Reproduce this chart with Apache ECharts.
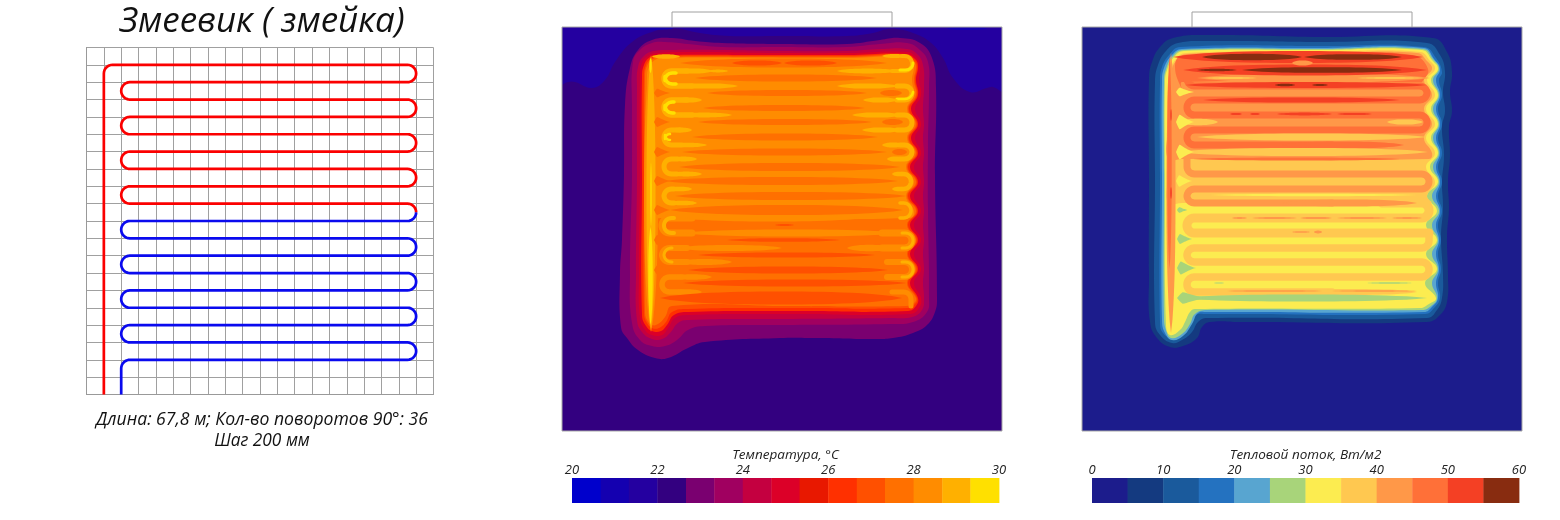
<!DOCTYPE html>
<html style="height: 100%">
<head>
<meta charset="utf-8">
</head>
<body style="height: 100%; margin: 0; background: #fff">
<div id="container" style="width:1560px;height:520px"></div>
<script src="https://cdn.jsdelivr.net/npm/echarts@6/dist/echarts.min.js"></script>
<script type="text/javascript">
// pipe layout, in grid cells
var pipeRed = [[1,0],[1,19],[19,19],[19,18],[2,18],[2,17],[19,17],[19,16],[2,16],[2,15],[19,15],[19,14],[2,14],[2,13],[19,13],[19,12],[2,12],[2,11],[19,11],[19,10.5]];
var pipeBlue = [[19,10.5],[19,10],[2,10],[2,9],[19,9],[19,8],[2,8],[2,7],[19,7],[19,6],[2,6],[2,5],[19,5],[19,4],[2,4],[2,3],[19,3],[19,2],[2,2],[2,0]];

// colour bars
var tempBins = [20,20.67,21.33,22,22.67,23.33,24,24.67,25.33,26,26.67,27.33,28,28.67,29.33,30];
var tempColors = ['#0000cc','#1400b0','#2400a0','#330080','#7a0070','#a00060','#c40040','#dc0028','#e81800','#ff3000','#ff5000','#ff7000','#ff8c00','#ffb000','#ffe000'];
var heatBins = [0,5,10,15,20,25,30,35,40,45,50,55,60];
var heatColors = ['#1c1c8c','#143a80','#1a5a9c','#2472c0','#58a5d0','#a8d47a','#fcec50','#ffc850','#ff9848','#ff7038','#f44024','#882c10'];

// temperature contours, room coords, bin index is the array name's number
var tempOutline2 = [[-30,-30],[470,-30],[470,82],[440,65],[431,60],[425,61],[408,65],[391,51],[381,31],[368,15],[351,6],[335,2],[325,2],[311,6],[285,9],[218,9],[168,9],[138,6],[110,1],[90,5],[70,15],[53,35],[43,53],[30,61],[13,55],[6,55],[0,58],[-30,74]];
var tempOutline4 = [[62,148],[63,78],[68,41],[76,23],[90,13],[110,11],[133,14],[160,16],[223,17],[285,17],[318,13],[338,11],[358,16],[370,31],[374,61],[373,148],[375,271],[373,285],[365,298],[351,306],[331,311],[311,312],[251,311],[218,311],[143,315],[126,321],[106,331],[93,331],[76,323],[65,311],[59,300],[58,246],[60,213]];
var tempOutline5 = [[70,148],[70,78],[71,35],[78,23],[90,16],[103,15],[126,17],[160,20],[218,20],[285,20],[318,17],[345,16],[358,23],[366,35],[367,60],[366,120],[366,181],[367,271],[365,285],[351,295],[328,297],[223,298],[143,299],[126,303],[115,313],[103,319],[90,319],[78,313],[70,296],[68,246]];
var tempOutline6 = [[75,148],[75,60],[76,40],[82,29],[92,24],[110,23],[160,23],[218,24],[285,24],[320,22],[345,22],[355,27],[361,38],[362,60],[361,82],[362,97],[361,111],[362,126],[361,140],[362,155],[361,169],[362,184],[361,198],[362,213],[361,227],[362,242],[361,256],[362,271],[360,283],[350,290],[328,291],[223,292],[126,293],[116,296],[108,306],[100,312],[90,312],[80,305],[75,293],[74,246]];
var tempOutline7 = [[78,148],[78,50],[80,36],[86,29],[95,26],[130,25],[218,26],[285,26],[345,25],[354,30],[358,39],[357,53],[359,68],[353,82],[359,97],[353,111],[359,126],[352,140],[359,155],[352,169],[359,184],[352,198],[359,213],[352,227],[359,242],[352,256],[359,271],[357,281],[348,287],[223,287],[126,288],[113,291],[106,301],[100,308],[90,308],[83,303],[78,290],[77,246]];
var tempOutline9 = [[80,148],[80,50],[82,38],[88,30],[96,28],[218,28],[285,28],[344,27],[353,32],[356,39],[354,53],[356,68],[349,82],[356,97],[349,111],[356,126],[348,140],[356,155],[348,169],[356,184],[348,198],[356,213],[348,227],[356,242],[348,256],[356,271],[354,279],[346,284],[223,284],[126,285],[112,288],[105,298],[99,304],[90,304],[84,299],[80,288]];
var tempOutline10 = [[82,148],[82,50],[84,38],[90,31],[98,29],[218,29],[285,29],[343,28],[352,33],[355,39],[353,53],[355,68],[347,82],[355,97],[347,111],[355,126],[346,140],[355,155],[346,169],[355,184],[346,198],[355,213],[346,227],[355,242],[346,256],[355,271],[353,277],[345,281],[223,281],[126,282],[110,285],[104,295],[97,301],[90,301],[85,296],[82,286]];
var tempOutline11 = [[83,148],[83,50],[85,39],[91,32],[99,30],[218,30],[285,30],[342,29],[351,34],[354,39],[352,53],[354,68],[346,82],[354,97],[346,111],[354,126],[345,140],[354,155],[345,169],[354,184],[345,198],[354,213],[345,227],[354,242],[345,256],[354,271],[352,276],[344,279],[223,279],[110,279],[103,290],[96,297],[90,298],[85,293],[83,284]];
var tempOutline12 = [[85,148],[85,50],[87,40],[93,33],[100,31],[218,31],[285,31],[340,30],[349,35],[352,39],[350,53],[352,68],[345,82],[352,97],[345,111],[352,126],[344,140],[352,155],[344,169],[352,184],[348,191],[100,191],[85,191]];

// warm runs following the pipe: bin, stroke, waypoints
var tempRuns = [
  [12,7,[[130,191],[100,191],[100,206],[130,206]]],
  [12,6,[[125,221],[100,221],[100,235],[125,235]]],
  [12,5.5,[[120,250],[100,250],[100,265],[120,265]]],
  [12,7,[[320,206],[350,206],[350,221],[320,221]]],
  [12,6,[[325,235],[350,235],[350,250],[325,250]]],
  [12,5,[[330,265],[349,265],[349,279]]],
  [13,5.5,[[125,44],[102,44],[102,59],[130,59]]],
  [13,5.5,[[125,73],[102,73],[102,88],[130,88]]],
  [13,5,[[118,103],[102,103],[102,118],[120,118]]],
  [13,5,[[115,132],[102,132],[102,147],[115,147]]],
  [13,5,[[112,162],[102,162],[102,176],[112,176]]],
  [13,4,[[112,191],[102,191],[102,206],[112,206]]],
  [13,3,[[110,221],[102,221],[102,235],[110,235]]],
  [13,4,[[340,29],[350,29],[350,44],[330,44]]],
  [13,5,[[335,59],[350,59],[350,73],[335,73]]],
  [13,5,[[335,88],[350,88],[350,103],[335,103]]],
  [13,5,[[338,118],[350,118],[350,132],[338,132]]],
  [13,4.5,[[340,147],[349,147],[349,162],[340,162]]],
  [13,3.5,[[338,176],[349,176],[349,191],[338,191]]],
  [13,3,[[340,206],[351,206],[351,221],[340,221]]],
  [13,3,[[340,235],[351,235],[351,250],[340,250]]],
  [14,3.5,[[114,46],[103,46],[103,57],[114,57]]],
  [14,3.5,[[112,75],[103,75],[103,86],[112,86]]],
  [14,2.5,[[108,107],[103,107],[103,113],[108,113]]],
  [14,3,[[338,43],[351,43],[351,36]]],
  [14,2.5,[[335,72],[350,72],[351,65]]]
];

// streaks between the pipe rows: bin, from x, to x, y, half height
var tempStreaks = [
  [1,55,112,1.5,1.5],[1,385,425,1.5,1.5],
  [12,120,300,191,3.5],[12,120,340,206,3.5],[12,115,220,221,3],[12,115,170,235,3],[12,110,150,250,2.7],[12,110,140,265,2.7],[12,285,330,221,3.2],
  [13,114,150,44,2.5],[13,114,176,59,2.6],[13,114,140,73,2.5],[13,114,170,88,2.4],[13,108,130,103,2.4],[13,108,145,118,2.2],[13,108,135,132,2.4],[13,108,140,147,2.4],[13,106,130,162,2.3],[13,106,135,176,2.3],
  [13,320,345,29,2],[13,275,336,44,2.4],[13,275,336,59,2.6],[13,301,336,73,2.6],[13,290,340,88,2.6],[13,300,340,103,2.6],[13,320,342,118,2.5],[13,325,342,132,2.5],[13,330,345,147,2.3],[13,330,345,162,2.3],
  [13,146,166,44,1.4],[13,90,118,29.5,2.2],
  [11,118,325,36,4.5],[11,133,315,51,3.5],[11,145,305,66,3],[11,318,340,66,3],[11,141,303,81,3],[11,136,310,95,3],[11,320,341,95,3],[11,130,316,110,3.5],[11,120,325,125,3.5],[11,330,345,125,3],[11,117,338,140,4],[11,103,336,154,4],[11,113,345,169,4],[11,108,341,183,5],
  [10,170,220,36,2.5],[10,222,275,36,2.5],[10,165,278,213,1.8],[10,136,313,228,2.5],[10,126,326,243,3.5],[10,121,345,256,3.5],[10,98,340,271,6.5],[10,213,232,198,1]
];
// notches at the open ends of the rows: bin, blunt x, tip x, y, half height
var tempNotches = [[11,92,108,66,6],[11,92,108,95,7],[11,92,108,125,7],[11,92,108,154,7],[11,92,108,183,7],[11,92,108,213,7],[11,92,110,243,7]];
var tempBandsUpright = [ // bin, x, from y, to y, half width
  [12,89,30,305,7],[13,89,28,302,4.5],[14,88.5,200,298,2.2],[14,88.5,31,46,1.2],[14,89,135,200,0.7]
];

// heat flux contours
var heatOutline1 = [[67,148],[67,51],[70,35],[78,20],[91,11],[125,8],[240,10],[351,11],[365,25],[370,45],[368,65],[370,84],[367,100],[368,128],[366,155],[367,181],[365,210],[366,248],[365,275],[358,288],[345,295],[158,295],[128,295],[120,300],[115,311],[101,319],[88,320],[75,311],[68,295],[67,248]];
var heatOutline2 = [[73,148],[73,55],[76,38],[84,24],[96,16],[125,14],[240,15],[345,16],[358,28],[363,45],[361,65],[363,84],[360,100],[362,128],[360,155],[361,181],[359,210],[361,248],[360,271],[355,283],[345,291],[125,291],[116,295],[110,305],[100,313],[90,316],[78,308],[73,295]];
var heatOutline3 = [[78,148],[78,55],[80,40],[88,27],[98,20],[240,19],[342,20],[354,31],[360,45],[357,53],[360,68],[356,82],[360,97],[356,111],[360,126],[356,140],[360,155],[356,169],[360,184],[356,198],[359,213],[356,227],[359,242],[356,256],[358,271],[352,281],[343,287],[125,287],[113,288],[106,296],[98,308],[90,311],[81,306],[78,295]];
var heatOutline4 = [[80,148],[80,55],[82,41],[90,28],[100,22],[240,21],[342,21],[352,32],[358,42],[354,53],[358,68],[354,82],[358,97],[354,111],[358,126],[354,140],[358,155],[354,169],[358,184],[354,198],[357,213],[354,227],[357,242],[354,256],[356,271],[350,280],[342,285],[125,285],[116,286],[110,297],[101,309],[90,313],[83,306],[80,293]];
var heatOutline5 = [[82,148],[82,55],[84,42],[91,29],[101,23],[240,22],[341,22],[351,32],[357,42],[351,53],[357,68],[351,82],[357,97],[351,111],[357,126],[351,140],[357,155],[350,169],[357,184],[350,198],[356,213],[350,227],[356,242],[350,256],[355,271],[349,279],[340,283],[125,283],[113,287],[108,297],[100,307],[89,311],[84,303],[82,290]];
var heatOutline6 = [[83,148],[83,55],[85,43],[92,30],[102,24],[240,23],[340,23],[350,33],[356,42],[349,53],[356,68],[349,82],[356,97],[349,111],[356,126],[348,140],[356,155],[345,169],[355,184],[344,198],[355,213],[344,227],[355,242],[343,256],[354,271],[347,277],[338,281],[113,282],[108,285],[103,295],[98,303],[88,308],[84,298]];
var heatOutline7 = [[86,148],[86,55],[88,44],[94,32],[104,26],[240,25],[338,25],[348,34],[353,42],[345,53],[353,68],[344,82],[353,97],[344,111],[353,126],[344,140],[353,155],[345,169],[349,176],[100,176],[86,176]];
var heatOutline8 = [[86,100],[86,55],[89,44],[95,33],[105,27],[240,26],[335,26],[345,34],[350,42],[342,53],[350,68],[342,82],[350,97],[342,111],[350,126],[347,132],[100,132],[86,132]];
var heatOutline9 = [[100,62],[93,40],[100,29],[240,27],[330,28],[346,42],[340,55],[338,55],[100,55]];

var heatRuns = [
  [7,9,[[300,176],[347,176],[347,191],[105,191],[105,206],[347,206]]],
  [7,7.5,[[347,206],[347,221],[105,221],[105,235],[347,235],[347,250],[105,250],[105,265],[250,265]]],
  [8,7,[[105,132],[105,147],[347,147],[347,162],[105,162],[105,176],[250,176]]],
  [9,7,[[110,44],[105,44],[105,59],[345,59],[345,73],[105,73],[105,88],[345,88],[345,103],[105,103],[105,118],[250,118]]]
];
var heatStreaks = [
  [7,200,335,265,3],[8,200,335,176,3.5],[9,200,322,118,3.5],
  [6,128,335,168,1.2],
  [5,96,345,271,3.5],[5,132,142,256,0.6],[5,285,330,256,0.7],
  [8,150,165,191,0.9],[8,170,215,191,1],[8,218,250,191,1.1],[8,255,305,191,1],[8,310,340,191,0.9],[8,210,228,205,0.8],[8,232,240,205,1.4],
  [8,145,240,264,0.8],[8,250,335,264,0.7],
  [7,96,136,95,3.2],[7,305,341,95,2.6],[7,115,345,110,3.5],[7,96,346,125,4],
  [8,115,348,51,4.5],
  [9,111,318,132,1.5],
  [10,91,341,30,6],[10,101,345,43,5.5],[10,103,345,58,3],[10,121,318,73,2.5],[10,148,160,87,1.1],[10,168,178,87,1.1],[10,195,250,87,1.4],[10,255,290,87,1.1],
  [11,120,220,30,3.2],[11,222,320,30,2.8],[11,115,155,43,1.2],[11,160,320,43,2.8],[11,193,213,58,1.3],[11,230,246,58,1],
  [8,210,231,36,2.5],
  [7,123,175,51,1],[7,275,341,51,1]
];
var heatNotches = [[6,94,112,65,6],[6,94,112,95,10],[6,94,112,125,10],[6,94,110,154,8],[5,95,106,183,4],[5,95,110,212,7],[5,95,114,241,9],[5,95,125,271,8]];
var heatBandsUpright = [
  [8,89,26,306,4.5],[9,87.5,29,242,2.2],[10,89,160,172,0.8],[10,89,82,94,0.7]
];

var levelsT = [[2,tempOutline2],[4,tempOutline4],[5,tempOutline5],[6,tempOutline6],[7,tempOutline7],[9,tempOutline9],[10,tempOutline10],[11,tempOutline11],[12,tempOutline12]];
var levelsH = [[1,heatOutline1],[2,heatOutline2],[3,heatOutline3],[4,heatOutline4],[5,heatOutline5],[6,heatOutline6],[7,heatOutline7],[8,heatOutline8],[9,heatOutline9]];

var panelFrame = [[0,0],[440,0],[440,404],[0,404],[0,0]];
var doorFrame = [[110,0],[110,-15],[330,-15],[330,0]];

var dom = document.getElementById('container');
var myChart = echarts.init(dom, null, {renderer: 'canvas'});

// rounds the corners of a pixel polyline
function roundCorners(p, r) {
  var out = [p[0]];
  for (var i = 1; i < p.length - 1; i++) {
    var a = p[i - 1], b = p[i], c = p[i + 1];
    var la = Math.hypot(a[0]-b[0], a[1]-b[1]), lc = Math.hypot(c[0]-b[0], c[1]-b[1]);
    var rr = Math.min(r, la, lc);
    var ux = (a[0]-b[0])/la, uy = (a[1]-b[1])/la, vx = (c[0]-b[0])/lc, vy = (c[1]-b[1])/lc;
    var cx = b[0] + (ux+vx)*rr, cy = b[1] + (uy+vy)*rr;
    for (var k = 0; k <= 8; k++) {
      var t = k/8*Math.PI/2;
      out.push([cx - vx*rr*Math.cos(t) - ux*rr*Math.sin(t), cy - vy*rr*Math.cos(t) - uy*rr*Math.sin(t)]);
    }
  }
  out.push(p[p.length-1]);
  return out;
}
function renderPipe(pts, color) {
  return function (params, api) {
    var p = pts.map(function (d) { return api.coord(d); });
    return {type: 'polyline', shape: {points: roundCorners(p, Math.abs(api.size([0.5, 0])[0]))}, style: {stroke: color, lineWidth: 2.7, fill: null, lineJoin: 'round'}};
  };
}
function renderRuns(runs, colors) {
  return function (params, api) {
    var run = runs[api.value(0)];
    var p = run[2].map(function (d) { return api.coord(d); });
    return {type: 'polyline', shape: {points: roundCorners(p, Math.abs(api.size([7.4, 0])[0]))}, style: {stroke: colors[run[0]], lineWidth: run[1], fill: null, lineJoin: 'round', lineCap: 'round'}};
  };
}
function renderOutlines(levels, colors) {
  return function (params, api) {
    var lv = levels[api.value(0)];
    return {
      type: 'polygon',
      shape: {points: lv[1].map(function (d) { return api.coord(d); }), smooth: 0.45},
      style: {fill: colors[lv[0]]}
    };
  };
}

function streakPts(api, a, b, c, h, upright) {
  var top = [], bot = [], n = 24;
  for (var i = 0; i <= n; i++) {
    var t = -1 + 2*i/n;
    var w = h*Math.pow(1 - Math.pow(Math.abs(t), 2.5), 0.75);
    var m = a + (b-a)*i/n;
    top.push(api.coord(upright ? [c-w, m] : [m, c-w]));
    bot.unshift(api.coord(upright ? [c+w, m] : [m, c+w]));
  }
  return top.concat(bot);
}
function renderStreaks(colors) {
  return function (params, api) {
    return {type: 'polygon', shape: {points: streakPts(api, api.value(1), api.value(2), api.value(3), api.value(4), false)}, style: {fill: colors[api.value(0)]}};
  };
}
function renderUpright(colors) {
  return function (params, api) {
    return {type: 'polygon', shape: {points: streakPts(api, api.value(2), api.value(3), api.value(1), api.value(4), true)}, style: {fill: colors[api.value(0)]}};
  };
}
function renderNotches(colors) {
  return function (params, api) {
    var a = api.value(1), b = api.value(2), y = api.value(3), h = api.value(4), top = [], bot = [];
    for (var i = 0; i <= 16; i++) {
      var s = i/16;
      var w = h*Math.min(1, s*5)*Math.pow(1 - s, 1.3);
      top.push(api.coord([a + (b-a)*s, y - w]));
      bot.unshift(api.coord([a + (b-a)*s, y + w]));
    }
    return {type: 'polygon', shape: {points: top.concat(bot)}, style: {fill: colors[api.value(0)]}};
  };
}
function renderBar(bins, colors) {
  return function (params, api) {
    var i = api.value(0);
    var a = api.coord([bins[i], 0]), b = api.coord([bins[i+1], 1]);
    return {type: 'rect', shape: {x: a[0], y: b[1], width: b[0]-a[0]+0.4, height: a[1]-b[1]}, style: {fill: colors[i]}};
  };
}
function idx(list) { return list.map(function (d, i) { return [i, 0]; }); }

function fieldSeries(k, levels, colors, streaks, upright, runs, notches) {
  var base = {type: 'custom', xAxisIndex: k, yAxisIndex: k, clip: true, silent: true};
  return [
    Object.assign({}, base, {data: idx(levels), renderItem: renderOutlines(levels, colors)}),
    Object.assign({}, base, {data: upright, renderItem: renderUpright(colors), z: 2.1}),
    Object.assign({}, base, {data: idx(runs), renderItem: renderRuns(runs, colors), z: 2.15}),
    Object.assign({}, base, {data: streaks, renderItem: renderStreaks(colors), z: 2.2}),
    Object.assign({}, base, {data: notches, renderItem: renderNotches(colors), z: 2.25}),
    {type: 'line', xAxisIndex: k, yAxisIndex: k, clip: false, silent: true, showSymbol: false, data: panelFrame, lineStyle: {color: '#a8a8a8', width: 1}, z: 3},
    {type: 'line', xAxisIndex: k, yAxisIndex: k, clip: false, silent: true, showSymbol: false, data: doorFrame, lineStyle: {color: '#a0a0a0', width: 1}, z: 3}
  ];
}

var hiddenX = {type: 'value', min: 0, max: 440, show: false};
var hiddenY = {type: 'value', min: 0, max: 404, inverse: true, show: false};
function barAxis(k, min, max, interval, name) {
  return {
    type: 'value', gridIndex: k, min: min, max: max, interval: interval, position: 'top',
    name: name, nameLocation: 'middle', nameGap: 16,
    nameTextStyle: {fontFamily: 'Open Sans', fontStyle: 'italic', fontSize: 13.5, color: '#222'},
    axisLine: {show: false}, axisTick: {show: false}, splitLine: {show: false},
    axisLabel: {show: true, margin: 1, fontFamily: 'Open Sans', fontStyle: 'italic', fontSize: 13, color: '#222', hideOverlap: false}
  };
}
var textItalic = {fontFamily: 'Open Sans', fontStyle: 'italic', fontWeight: 400, color: '#111'};

var option = {
  animation: false,
  backgroundColor: '#fff',
  title: [
    {text: 'Змеевик ( змейка)', left: 257, top: 0, textAlign: 'center', textStyle: Object.assign({}, textItalic, {fontSize: 35})},
    {text: 'Длина: 67,8 м; Кол-во поворотов 90°: 36', left: 257, top: 406, textAlign: 'center', textStyle: Object.assign({}, textItalic, {fontSize: 17.6})},
    {text: 'Шаг 200 мм', left: 257, top: 428, textAlign: 'center', textStyle: Object.assign({}, textItalic, {fontSize: 17.3})}
  ],
  grid: [
    {left: 86.5, top: 47.5, width: 347, height: 347},
    {left: 562, top: 27, width: 440, height: 404, show: true, backgroundColor: tempColors[3], borderWidth: 0},
    {left: 1082, top: 27, width: 440, height: 404, show: true, backgroundColor: heatColors[0], borderWidth: 0},
    {left: 572, top: 478, width: 427, height: 25},
    {left: 1092, top: 478, width: 427, height: 25}
  ],
  xAxis: [
    {type: 'value', gridIndex: 0, min: 0, max: 20, interval: 1, axisLabel: {show: false}, axisTick: {show: false}, axisLine: {lineStyle: {color: '#999'}}, splitLine: {show: true, lineStyle: {color: '#a0a0a0', width: 1}}},
    Object.assign({gridIndex: 1}, hiddenX),
    Object.assign({gridIndex: 2}, hiddenX),
    barAxis(3, 20, 30, 2, 'Температура, °C'),
    barAxis(4, 0, 60, 10, 'Тепловой поток, Вт/м2')
  ],
  yAxis: [
    {type: 'value', gridIndex: 0, min: 0, max: 20, interval: 1, axisLabel: {show: false}, axisTick: {show: false}, axisLine: {show: true, lineStyle: {color: '#999'}}, splitLine: {show: true, lineStyle: {color: '#a0a0a0', width: 1}}},
    Object.assign({gridIndex: 1}, hiddenY),
    Object.assign({gridIndex: 2}, hiddenY),
    {type: 'value', gridIndex: 3, min: 0, max: 1, show: false},
    {type: 'value', gridIndex: 4, min: 0, max: 1, show: false}
  ],
  series: [
    {type: 'custom', xAxisIndex: 0, yAxisIndex: 0, clip: false, silent: true, data: [[0,0]], renderItem: renderPipe(pipeRed, '#fb0000'), z: 3},
    {type: 'custom', xAxisIndex: 0, yAxisIndex: 0, clip: false, silent: true, data: [[0,0]], renderItem: renderPipe(pipeBlue, '#0a0aee'), z: 3},
    {type: 'custom', xAxisIndex: 3, yAxisIndex: 3, silent: true, data: idx(tempColors), renderItem: renderBar(tempBins, tempColors)},
    {type: 'custom', xAxisIndex: 4, yAxisIndex: 4, silent: true, data: idx(heatColors), renderItem: renderBar(heatBins, heatColors)}
  ].concat(
    fieldSeries(1, levelsT, tempColors, tempStreaks, tempBandsUpright, tempRuns, tempNotches),
    fieldSeries(2, levelsH, heatColors, heatStreaks, heatBandsUpright, heatRuns, heatNotches)
  )
};
myChart.setOption(option);
</script>
</body>
</html>
